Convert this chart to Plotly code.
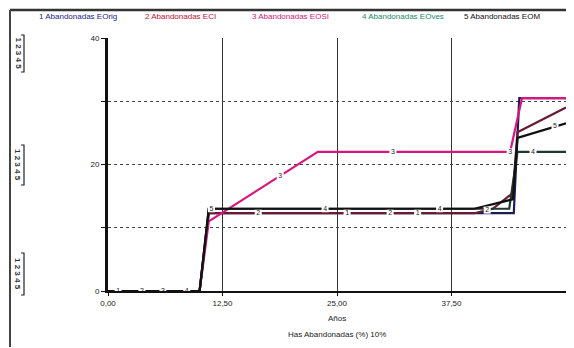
import numpy as np
import plotly.graph_objects as go

# ---- data ----
years_1 = [0, 10, 11, 44.3, 44.9, 50]
vals_1 = [0, 0, 12.3, 12.3, 30.5, 30.5]

years_2 = [0, 10, 11, 40, 42, 44.2, 44.7, 50]
vals_2 = [0, 0, 12.3, 12.3, 13.0, 15.5, 25.1, 29.0]

years_3 = [0, 10, 11, 22.9, 43.9, 45.2, 50]
vals_3 = [0, 0, 11.0, 22.0, 22.0, 30.5, 30.5]

years_4 = [0, 10, 11, 43.8, 44.7, 50]
vals_4 = [0, 0, 13.0, 13.0, 22.0, 22.0]

years_5 = [0, 10, 11, 40, 44.2, 44.7, 50]
vals_5 = [0, 0, 13.0, 13.0, 14.5, 24.2, 26.5]

names = ["Abandonadas EOrig", "Abandonadas ECI", "Abandonadas EOSI",
         "Abandonadas EOves", "Abandonadas EOM"]
label_years = [
    [1.1, 26.1, 33.8],
    [3.7, 16.4, 30.8, 41.4],
    [6.0, 18.8, 31.1, 43.9],
    [8.6, 23.7, 36.2, 46.4],
    [11.3, 48.8],
]
x_ticks = [0, 12.5, 25, 37.5, 50]
x_ticktext = ["0,00", "12,50", "25,00", "37,50", "50,00"]
y_ticks = [0, 10, 20, 30, 40]
y_ticktext = ["0", "", "20", "", "40"]

line_colors = ["#1c1c55", "#6a1a34", "#d8167f", "#1e3a2c", "#111111"]
legend_colors = ["#1c1c8a", "#c8102e", "#d8167f", "#1a8a6a", "#111111"]

series = [(years_1, vals_1), (years_2, vals_2), (years_3, vals_3),
          (years_4, vals_4), (years_5, vals_5)]

fig = go.Figure()
for i, (xs, ys) in enumerate(series):
    fig.add_trace(go.Scatter(x=xs, y=ys, mode="lines",
                             line=dict(color=line_colors[i], width=2.2),
                             showlegend=False, hoverinfo="skip", cliponaxis=False))
for i, (xs, ys) in enumerate(series):
    lx = label_years[i]
    ly = np.interp(lx, xs, ys)
    fig.add_trace(go.Scatter(x=lx, y=ly, mode="markers+text",
                             text=[str(i + 1)] * len(lx),
                             textposition="middle center",
                             marker=dict(symbol="square", size=7, color="white",
                                         line=dict(width=0)),
                             textfont=dict(size=7, color="#222", family="Liberation Sans"),
                             showlegend=False, hoverinfo="skip"))

# page body adds an 8px offset; window-pixel positions below are converted
OFF = 8
W, H = 574 - OFF, 348 - OFF
L, R, T, B = 108 - OFF, 8, 38 - OFF, 57
pw, ph = W - L - R, H - T - B

def px_x(p):
    return (p - OFF - L) / pw

def px_y(p):
    return (H - B - (p - OFF)) / ph

fig.update_layout(
    width=W, height=H,
    margin=dict(l=L, r=R, t=T, b=B, pad=0),
    paper_bgcolor="white", plot_bgcolor="white",
    font=dict(family="Liberation Sans", size=8, color="#222"),
    xaxis=dict(range=[0, 50], tickvals=x_ticks, ticktext=x_ticktext,
               showgrid=True, gridcolor="#333", gridwidth=1,
               showline=True, linecolor="#111", linewidth=2,
               ticks="outside", ticklen=3, tickcolor="#111",
               zeroline=False, tickfont=dict(size=8)),
    yaxis=dict(range=[0, 40], tickvals=y_ticks, ticktext=y_ticktext,
               showgrid=True, gridcolor="#444", gridwidth=1, griddash="dot",
               showline=True, linecolor="#111", linewidth=3,
               ticks="outside", ticklen=4, tickcolor="#111",
               zeroline=False, tickfont=dict(size=8)),
)

# legend across the top
legend_x_px = [37, 143, 250, 360, 462]
for i, nm in enumerate(names):
    fig.add_annotation(x=px_x(legend_x_px[i]), y=px_y(16), xref="paper", yref="paper",
                       text=f"{i + 1} {nm}", showarrow=False,
                       xanchor="left", yanchor="middle",
                       font=dict(size=8, color=legend_colors[i]))

# axis titles
fig.add_annotation(x=0.5, y=px_y(318), xref="paper", yref="paper", text="Años",
                   showarrow=False, yanchor="middle", font=dict(size=8, color="#222"))
fig.add_annotation(x=0.5, y=px_y(334), xref="paper", yref="paper",
                   text="Has Abandonadas (%) 10%", showarrow=False, yanchor="middle",
                   font=dict(size=8, color="#222"))

# left-side scale indicators
for top, bot in [(35, 72), (145, 185), (253, 295)]:
    fig.add_annotation(x=px_x(18), y=px_y((top + bot) / 2), xref="paper", yref="paper",
                       text="<b>1&nbsp;2&nbsp;3&nbsp;4&nbsp;5</b>", textangle=90,
                       showarrow=False, xanchor="center", yanchor="middle",
                       font=dict(size=8, color="#333"))
    fig.add_shape(type="path", xref="paper", yref="paper",
                  path=(f"M {px_x(21)} {px_y(top)} L {px_x(24)} {px_y(top)} "
                        f"L {px_x(24)} {px_y(bot)} L {px_x(21)} {px_y(bot)}"),
                  line=dict(color="#222", width=1.2))

# outer frame
fig.add_shape(type="line", xref="paper", yref="paper", layer="above",
              x0=px_x(10), x1=px_x(572), y0=px_y(10), y1=px_y(10),
              line=dict(color="#333", width=2.5))
fig.add_shape(type="line", xref="paper", yref="paper", layer="above",
              x0=px_x(10), x1=px_x(10), y0=px_y(10), y1=px_y(347),
              line=dict(color="#444", width=2))

fig.write_html("out.html")
